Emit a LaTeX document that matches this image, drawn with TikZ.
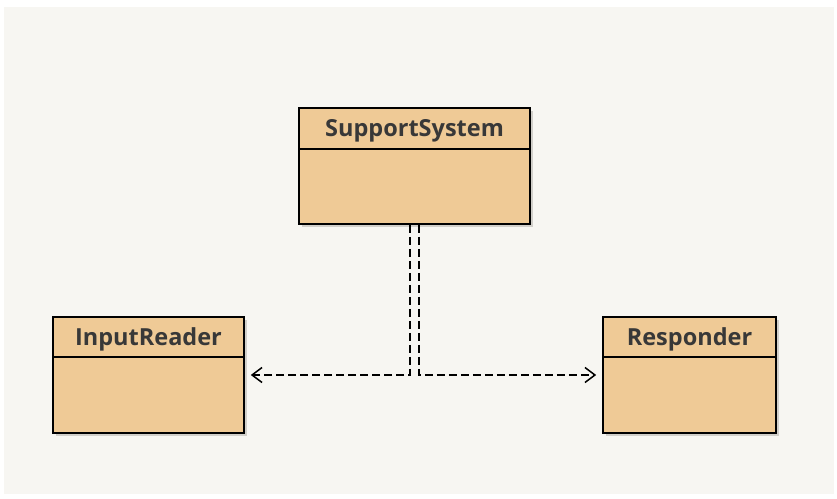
\documentclass[tikz,border=0pt]{standalone}
\usepackage{fontspec}
\setmainfont{Open Sans}
\usetikzlibrary{arrows.meta}
\definecolor{panel}{HTML}{F7F6F2}
\definecolor{boxfill}{HTML}{EFCA96}
\definecolor{txt}{HTML}{383838}
\definecolor{shade}{HTML}{B8B6B0}
\tikzset{
  umlbox/.style={draw=black, line width=1.6pt, fill=boxfill, rectangle, inner sep=0pt},
  shadowbox/.style={fill=shade, rectangle, inner sep=0pt, draw=none},
  title/.style={font=\fontsize{23.5}{26}\selectfont\bfseries, text=txt, inner sep=0pt},
  divider/.style={draw=black, line width=1.4pt},
  dep/.style={draw=black, line width=1.5pt, dash pattern=on 8pt off 4pt,
    -{Straight Barb[length=10pt,width=15pt,line width=1.5pt]}, shorten >=6pt},
}
\begin{document}
\begin{tikzpicture}[x=1pt,y=-1pt]
\useasboundingbox (0,0) rectangle (837,498);
\fill[panel] (4,7) rectangle (834,494);
% shadows
\node[shadowbox, minimum width=231pt, minimum height=116pt, opacity=0.6] at (417,168.5) {};
\node[shadowbox, minimum width=191pt, minimum height=116pt, opacity=0.6] at (151,377.5) {};
\node[shadowbox, minimum width=173pt, minimum height=116pt, opacity=0.6] at (692,377.5) {};
% boxes
\node[umlbox, minimum width=231pt, minimum height=116pt] (ss) at (414.5,166) {};
\node[umlbox, minimum width=191pt, minimum height=116pt] (ir) at (148.5,375) {};
\node[umlbox, minimum width=173pt, minimum height=116pt] (rs) at (689.5,375) {};
% dividers
\draw[divider] (ss.west |- 0,149) -- (ss.east |- 0,149);
\draw[divider] (ir.west |- 0,357) -- (ir.east |- 0,357);
\draw[divider] (rs.west |- 0,357) -- (rs.east |- 0,357);
% titles
\node[title] (sst) at (414.5,130.5) {SupportSystem};
\node[title] (irt) at (148.5,339.5) {InputReader};
\node[title] (rst) at (689.5,339.5) {Responder};
% dependencies
\draw[dep] ([xshift=-4.5pt]ss.south) |- (ir.east);
\draw[dep] ([xshift=4.5pt]ss.south) |- (rs.west);
\end{tikzpicture}
\end{document}
